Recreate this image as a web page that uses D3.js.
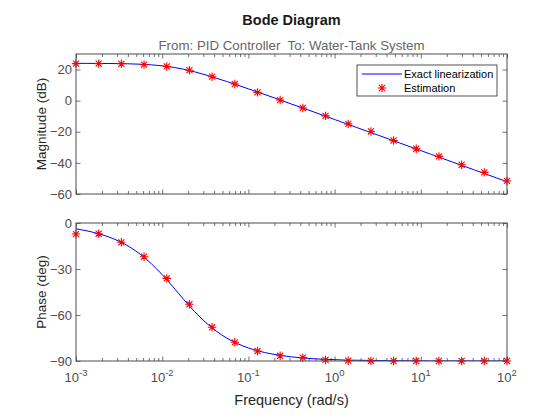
<!DOCTYPE html>
<html><head><meta charset="utf-8">
<script src="https://cdn.jsdelivr.net/npm/d3@7"></script>
<style>body{margin:0;background:#fff} svg{display:block;font-family:"Liberation Sans",Arial,Helvetica,sans-serif}</style>
</head><body><svg id="c" width="560" height="420"></svg>
<script>
// ---- data ----
const freqEst = [0.001, 0.001833, 0.00336, 0.006158, 0.011288, 0.020691, 0.037927, 0.069519, 0.12743, 0.23357,
  0.42813, 0.78476, 1.4384, 2.6367, 4.8329, 8.8587, 16.238, 29.764, 54.556, 100];
const magEst = [23.8, 23.8, 23.7, 23.2, 22.0, 19.6, 15.4, 10.7, 5.3, 0.4,
  -4.7, -9.8, -14.9, -19.8, -25.6, -30.9, -35.8, -41.2, -46.1, -51.6];
const phaseEst = [-7.2, -7.0, -12.6, -22.0, -36.1, -53.0, -68.0, -77.8, -83.5, -86.6,
  -87.8, -89.3, -89.8, -89.9, -90, -90, -90, -90, -90, -90];

const freqExact = [0.001, 0.001334, 0.001778, 0.002371, 0.003162, 0.004217, 0.005623, 0.007499, 0.01, 0.01334,
  0.01778, 0.02371, 0.03162, 0.04217, 0.05623, 0.07499, 0.1, 0.1334, 0.1778, 0.2371,
  0.3162, 0.4217, 0.5623, 0.7499, 1, 1.334, 1.778, 2.371, 3.162, 4.217,
  5.623, 7.499, 10, 13.34, 17.78, 23.71, 31.62, 42.17, 56.23, 74.99, 100];
const magExact = [23.98, 23.97, 23.94, 23.89, 23.81, 23.67, 23.43, 23.03, 22.40, 21.47,
  20.19, 18.56, 16.64, 14.51, 12.3, 10.0, 7.6, 5.2, 2.8, 0.3,
  -2.2, -4.6, -7.1, -9.6, -12.1, -14.6, -17.1, -19.6, -22.1, -24.6,
  -27.1, -29.6, -32.1, -34.6, -37.1, -39.6, -42.1, -44.6, -47.1, -49.6, -52.1];
const phaseExact = [-3.8, -5.1, -6.8, -9.0, -11.9, -15.7, -20.6, -26.6, -33.7, -41.6,
  -49.9, -57.7, -64.6, -70.4, -75.1, -78.7, -81.5, -83.6, -85.2, -86.4,
  -87.3, -88.0, -88.5, -88.9, -89.1, -89.4, -89.5, -89.6, -89.7, -89.8,
  -89.85, -89.9, -89.9, -89.95, -89.95, -89.96, -89.97, -89.98, -89.98, -89.99, -89.99];

const magTicks = [-60, -40, -20, 0, 20];
const phaseTicks = [-90, -60, -30, 0];
const freqTicks = [1e-3, 1e-2, 1e-1, 1, 10, 100];
const freqTickExp = ["-3", "-2", "-1", "0", "1", "2"];
const magDomain = [-60, 30];
const phaseDomain = [-90, 0];
const freqDomain = [1e-3, 100];

const titleText = "Bode Diagram";
const subtitleText = "From: PID Controller  To: Water-Tank System";
const seriesNames = ["Exact linearization", "Estimation"];

// ---- layout ----
const svg = d3.select("#c");
const L = 76, R = 507;
const panels = [
  {top: 54, bottom: 194, domain: magDomain, ticks: magTicks, label: "Magnitude (dB)", est: magEst, exact: magExact, xlabels: false},
  {top: 223, bottom: 361, domain: phaseDomain, ticks: phaseTicks, label: "Phase (deg)", est: phaseEst, exact: phaseExact, xlabels: true}
];
const axisCol = "#4d4d4d", textCol = "#4d4d4d";
const x = d3.scaleLog().domain(freqDomain).range([L, R]);
const minorTicks = [];
for (let e = -3; e < 2; e++) for (let m = 2; m <= 9; m++) minorTicks.push(m * Math.pow(10, e));

svg.append("text").attr("x", (L + R) / 2).attr("y", 25).attr("text-anchor", "middle")
  .attr("font-size", 14.5).attr("font-weight", "bold").attr("fill", "#1a1a1a").text(titleText);
svg.append("text").attr("x", (L + R) / 2).attr("y", 50).attr("text-anchor", "middle")
  .attr("font-size", 13.3).attr("fill", "#666").style("white-space", "pre").text(subtitleText);

function styleAxis(g) {
  g.select(".domain").remove();
  g.selectAll(".tick line").attr("stroke", axisCol).attr("stroke-width", 0.8);
  g.selectAll("text").attr("fill", textCol).attr("font-size", 13).attr("font-family", null);
}

panels.forEach(p => {
  const y = d3.scaleLinear().domain(p.domain).range([p.bottom, p.top]);
  const g = svg.append("g");
  g.append("rect").attr("x", L).attr("y", p.top).attr("width", R - L).attr("height", p.bottom - p.top)
    .attr("fill", "#fff");
  // y axes
  g.append("g").attr("transform", `translate(${L},0)`)
    .call(d3.axisLeft(y).tickValues(p.ticks).tickSize(-4.5).tickPadding(4).tickFormat(d3.format("d"))).call(styleAxis);
  g.append("g").attr("transform", `translate(${R},0)`)
    .call(d3.axisRight(y).tickValues(p.ticks).tickSize(-4.5).tickFormat("")).call(styleAxis);
  // x axes (major + minor), bottom and top
  [[p.bottom, d3.axisBottom], [p.top, d3.axisTop]].forEach(([yy, ax]) => {
    g.append("g").attr("transform", `translate(0,${yy})`)
      .call(ax(x).tickValues(freqTicks).tickSize(-4.5).tickFormat("")).call(styleAxis);
    g.append("g").attr("transform", `translate(0,${yy})`)
      .call(ax(x).tickValues(minorTicks).tickSize(-3).tickFormat("")).call(styleAxis);
  });
  // data
  const clipId = "clip" + p.top;
  svg.append("clipPath").attr("id", clipId).append("rect")
    .attr("x", L).attr("y", p.top).attr("width", R - L).attr("height", p.bottom - p.top);
  const line = d3.line().x((d, i) => x(freqExact[i])).y(d => y(d)).curve(d3.curveMonotoneX);
  g.append("path").attr("d", line(p.exact)).attr("fill", "none").attr("stroke", "#0000ff")
    .attr("stroke-width", 1).attr("clip-path", `url(#${clipId})`);
  const r = 4.2;
  const star = `M${-r},0H${r}M0,${-r}V${r}M${-r*0.72},${-r*0.72}L${r*0.72},${r*0.72}M${-r*0.72},${r*0.72}L${r*0.72},${-r*0.72}`;
  g.selectAll(null).data(p.est).enter().append("path")
    .attr("transform", (d, i) => `translate(${x(freqEst[i])},${y(d)})`)
    .attr("d", star).attr("stroke", "#ff0000").attr("stroke-width", 1.1).attr("fill", "none");
  // box
  g.append("rect").attr("x", L).attr("y", p.top).attr("width", R - L).attr("height", p.bottom - p.top)
    .attr("fill", "none").attr("stroke", axisCol).attr("stroke-width", 1);
  // y label
  svg.append("text").attr("transform", `translate(46,${(p.top + p.bottom) / 2}) rotate(-90)`)
    .attr("text-anchor", "middle").attr("font-size", 13.5).attr("fill", "#262626").text(p.label);
  // x labels
  if (p.xlabels) {
    freqTicks.forEach((f, i) => {
      const t = svg.append("text").attr("x", x(f)).attr("y", p.bottom + 21).attr("text-anchor", "middle")
        .attr("font-size", 13).attr("fill", textCol);
      t.append("tspan").text("10");
      t.append("tspan").attr("dy", -6).attr("font-size", 9.5).text(freqTickExp[i]);
    });
  }
});

svg.append("text").attr("x", (L + R) / 2).attr("y", 405).attr("text-anchor", "middle")
  .attr("font-size", 14.5).attr("fill", "#262626").text("Frequency (rad/s)");

// legend
const lg = svg.append("g");
lg.append("rect").attr("x", 357).attr("y", 65).attr("width", 140).attr("height", 31)
  .attr("fill", "#fff").attr("stroke", "#262626").attr("stroke-width", 0.8);
lg.append("line").attr("x1", 362).attr("x2", 402).attr("y1", 74).attr("y2", 74)
  .attr("stroke", "#0000ff").attr("stroke-width", 1);
const rr = 4.2;
lg.append("path").attr("transform", "translate(382,88)")
  .attr("d", `M${-rr},0H${rr}M0,${-rr}V${rr}M${-rr*0.72},${-rr*0.72}L${rr*0.72},${rr*0.72}M${-rr*0.72},${rr*0.72}L${rr*0.72},${-rr*0.72}`)
  .attr("stroke", "#ff0000").attr("stroke-width", 1.1).attr("fill", "none");
lg.append("text").attr("x", 404).attr("y", 78).attr("font-size", 11).attr("fill", "#000").text(seriesNames[0]);
lg.append("text").attr("x", 404).attr("y", 92).attr("font-size", 11).attr("fill", "#000").text(seriesNames[1]);
</script>
</body></html>
